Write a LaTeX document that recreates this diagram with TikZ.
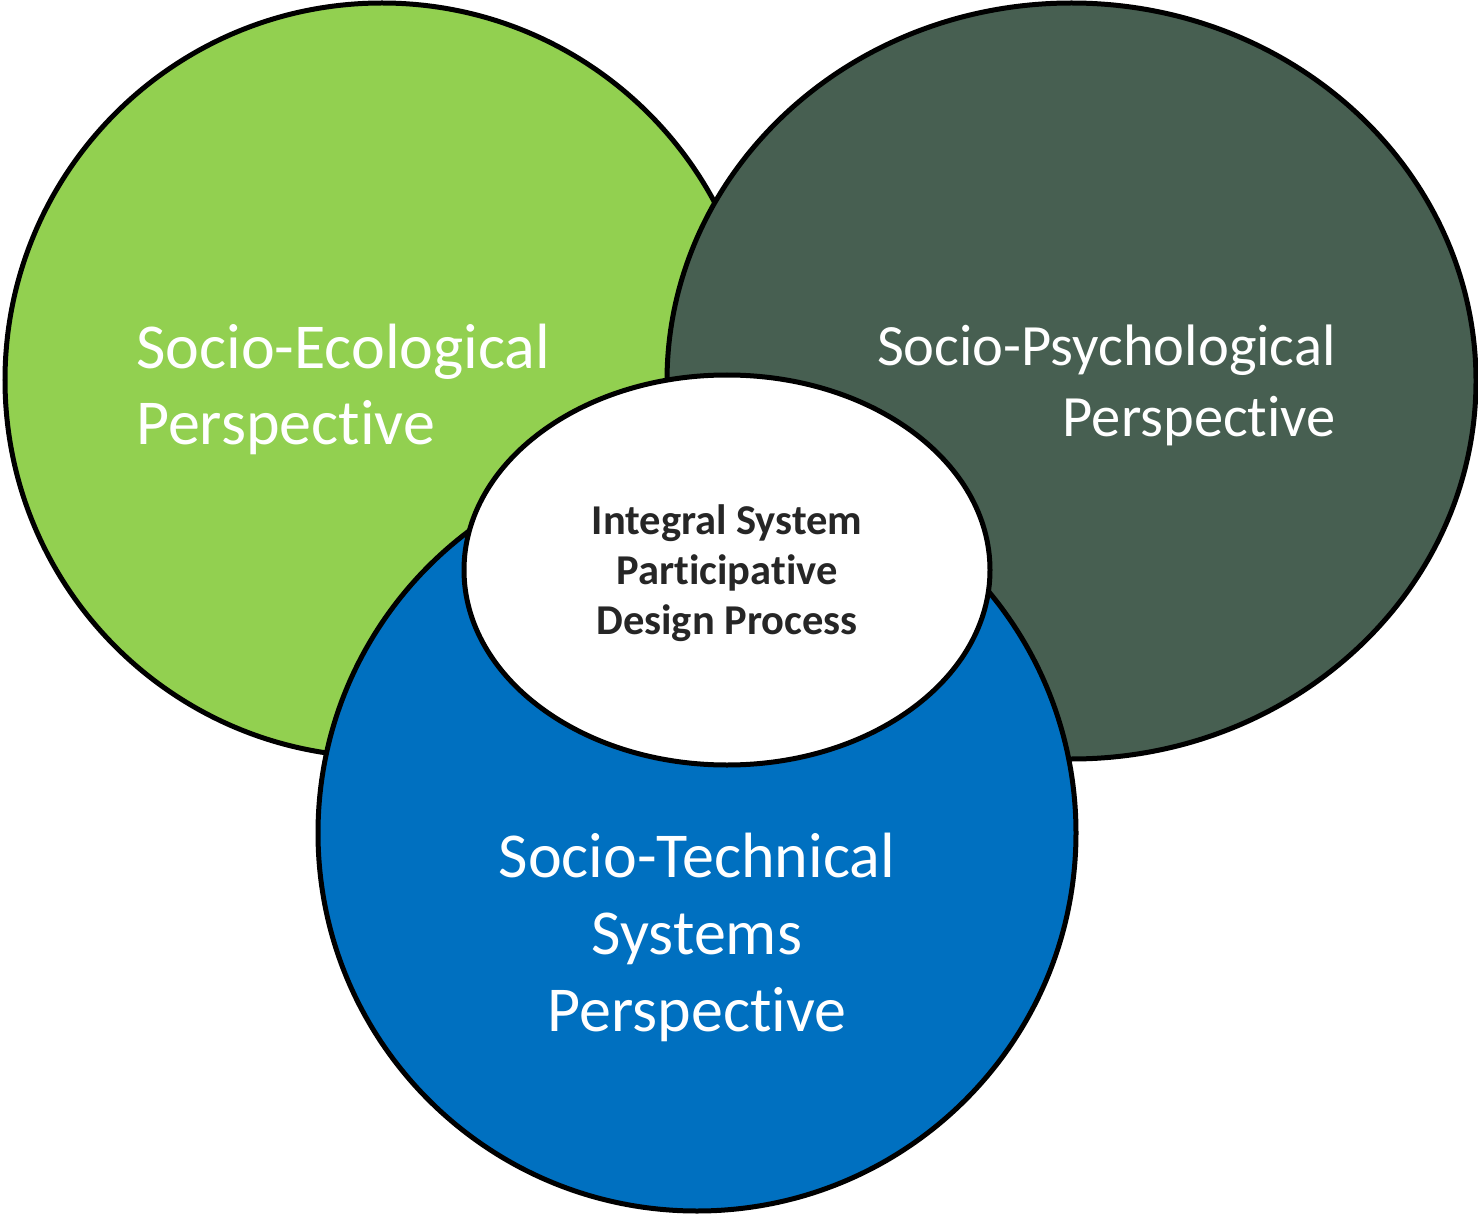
\documentclass[tikz,border=0pt]{standalone}
\usepackage{fontspec}
\setmainfont{Carlito}[Ligatures=NoCommon]
\usetikzlibrary{shapes.geometric}
\definecolor{ecogreen}{HTML}{92D050}
\definecolor{psydark}{HTML}{475F51}
\definecolor{techblue}{HTML}{0070C0}
\definecolor{coretext}{HTML}{262626}
\tikzset{
  sphere/.style={ellipse, draw=black, line width=5pt, inner sep=0pt},
  biglabel/.style={text=white, inner sep=0pt, font=\fontsize{64}{76}\selectfont},
  corelabel/.style={text=coretext, inner sep=0pt, font=\bfseries\fontsize{42.5}{50}\selectfont, align=center}
}
\begin{document}
\begin{tikzpicture}[x=1pt, y=-1pt]
\path[use as bounding box, fill=white] (0,0) rectangle (1478,1214);
\node[sphere, fill=ecogreen, minimum width=754pt, minimum height=754pt] (eco) at (382,380) {};
\node[sphere, fill=psydark, minimum width=809pt, minimum height=756pt] (psy) at (1071.5,381) {};
\node[sphere, fill=techblue, minimum width=758pt, minimum height=756pt] (tech) at (697,833) {};
\node[sphere, fill=white, minimum width=526pt, minimum height=390pt] (core) at (727,570) {};
\node[biglabel, align=left, anchor=west] (ecol) at (136,389) {Socio-Ecological\\Perspective};
\node[biglabel, align=right, anchor=east, font=\fontsize{58.5}{71}\selectfont] (psyl) at (1336,385) {Socio-Psychological\\Perspective};
\node[biglabel, align=center, font=\fontsize{64}{77}\selectfont] (techl) at (697,937) {Socio-Technical\\Systems\\Perspective};
\node[corelabel] (corel) at (727,573) {Integral System\\Participative\\Design Process};
\end{tikzpicture}
\end{document}
